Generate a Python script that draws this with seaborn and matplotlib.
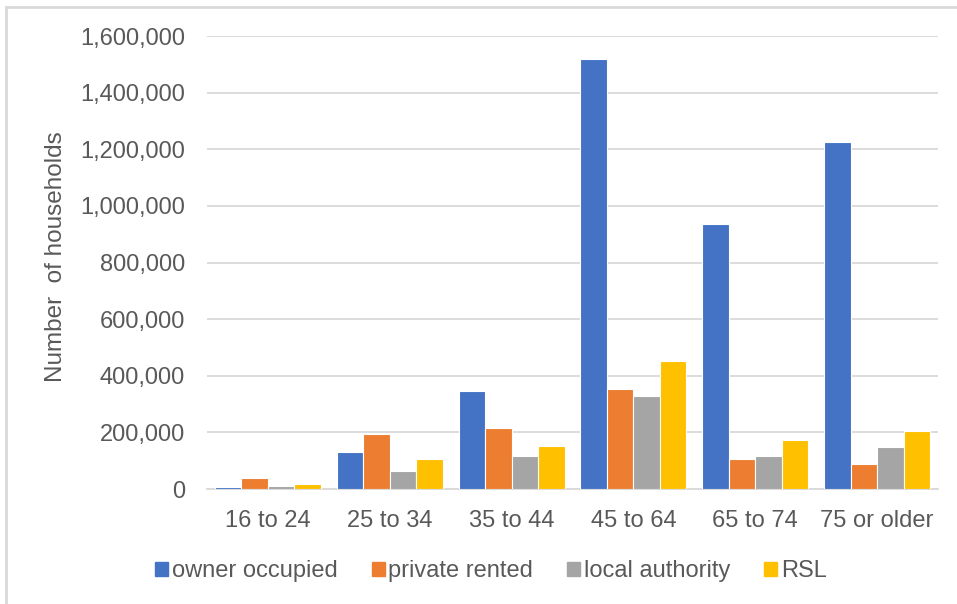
import pandas as pd
import seaborn as sns
import matplotlib.pyplot as plt
from matplotlib.patches import Rectangle
from matplotlib.ticker import FuncFormatter

# data
age_groups = ["16 to 24", "25 to 34", "35 to 44", "45 to 64", "65 to 74", "75 or older"]
tenures = ["owner occupied", "private rented", "local authority", "RSL"]
owner_occupied = [8000, 130000, 346000, 1520000, 936000, 1226000]
private_rented = [38000, 196000, 215000, 353000, 106000, 88000]
local_authority = [12000, 65000, 117000, 329000, 117000, 148000]
rsl = [16000, 105000, 152000, 452000, 173000, 205000]
colors = ["#4472C4", "#ED7D31", "#A5A5A5", "#FFC000"]

series = [owner_occupied, private_rented, local_authority, rsl]
df = pd.DataFrame(
    [(a, t, v) for t, vals in zip(tenures, series) for a, v in zip(age_groups, vals)],
    columns=["age", "tenure", "households"],
)

sns.set_style("white")
plt.rcParams["font.family"] = ["Liberation Sans", "DejaVu Sans"]
text_col = "#595959"
grid_col = "#D9D9D9"

fig = plt.figure(figsize=(9.57, 6.04), dpi=100)
ax = fig.add_axes([207 / 957, 1 - 489 / 604, 731 / 957, 453 / 604])

sns.barplot(
    data=df, x="age", y="households", hue="tenure", order=age_groups,
    hue_order=tenures, palette=colors, width=0.87, saturation=1,
    edgecolor="white", linewidth=0.8, ax=ax, zorder=3,
)
ax.get_legend().remove()

ax.set_ylim(0, 1600000)
ax.set_yticks(range(0, 1600001, 200000))
ax.yaxis.set_major_formatter(FuncFormatter(lambda v, p: f"{v:,.0f}"))
ax.grid(axis="y", color=grid_col, linewidth=1.3, zorder=0)
ax.set_axisbelow(True)
for s in ["top", "right", "left"]:
    ax.spines[s].set_visible(False)
ax.spines["bottom"].set_color(grid_col)
ax.spines["bottom"].set_linewidth(1.3)
ax.tick_params(axis="both", length=0, labelsize=17, colors=text_col)
ax.tick_params(axis="y", pad=16)
ax.tick_params(axis="x", pad=15)
ax.set_xlabel("")
ax.set_ylabel("Number  of households", fontsize=17.5, color=text_col)
ax.yaxis.set_label_coords(-0.191, 0.514)

handles = [Rectangle((0, 0), 1, 1, color=c) for c in colors]
fig.legend(
    handles, tenures, loc="center", bbox_to_anchor=(491 / 957, 1 - 571 / 604),
    ncol=4, frameon=False, fontsize=17, labelcolor=text_col,
    handlelength=0.55, handleheight=0.55, handletextpad=0.15, columnspacing=1.45,
)

# chart border: only the left and top edges show in the reference
fig.patches.append(Rectangle((6 / 957, -0.1), 1.2, 1.1 - 7 / 604,
                             transform=fig.transFigure, fill=False,
                             edgecolor=grid_col, linewidth=2))

fig.savefig("out.png", dpi=100)
